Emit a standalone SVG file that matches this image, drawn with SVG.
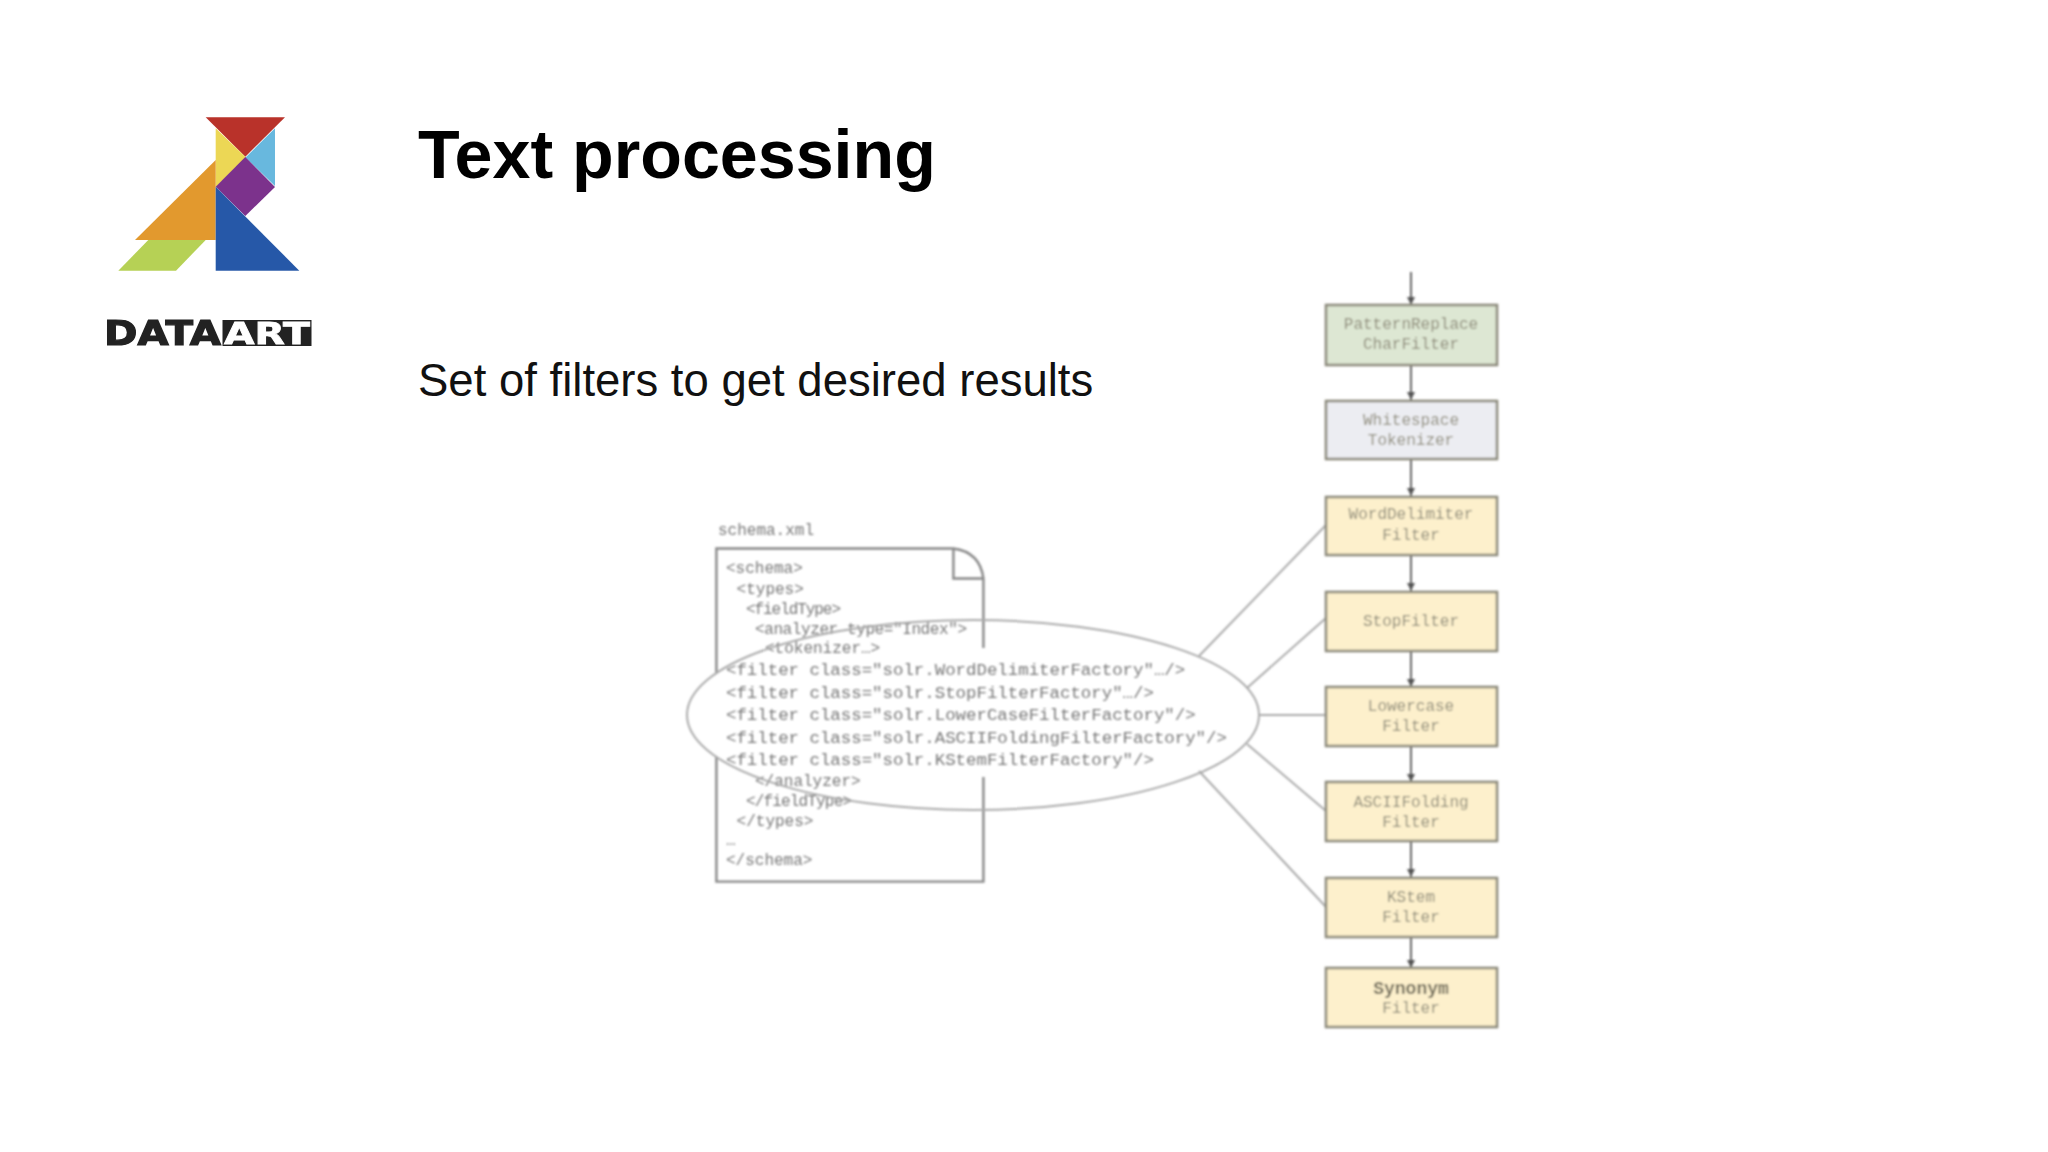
<svg xmlns="http://www.w3.org/2000/svg" width="2048" height="1152" viewBox="0 0 2048 1152">
<style>
.title{font:bold 68.2px "Liberation Sans",Arial,sans-serif;fill:#000}
.sub{font:45.5px "Liberation Sans",Arial,sans-serif;fill:#111}
.code{font-family:"Liberation Mono","Courier New",monospace;font-size:16px;fill:#777}
.flt{font-size:17.4px}
.lbl{font-family:"Liberation Mono","Courier New",monospace;font-size:16px;text-anchor:middle;fill:#8d8a78}
.box{stroke:#8c8a7c;stroke-width:2.6}
.g{fill:#dde7d3}.w{fill:#ecedf2}.y{fill:#fdf0cc}
.edge{stroke:#666;stroke-width:2;fill:none;marker-end:url(#arr)}
.link{stroke:#aaa;stroke-width:2;fill:none}
.doc{stroke:#888;stroke-width:2.4;fill:none}
</style>
<defs>
<marker id="arr" markerUnits="userSpaceOnUse" markerWidth="10" markerHeight="10" refX="8" refY="4" orient="auto"><path d="M0 0L8 4L0 8z" fill="#555"/></marker>
<filter id="soft" x="-5%" y="-5%" width="110%" height="110%"><feGaussianBlur stdDeviation="0.8"/></filter>
<filter id="softer" x="-5%" y="-5%" width="110%" height="110%"><feGaussianBlur stdDeviation="0.45"/></filter>
</defs>
<rect width="2048" height="1152" fill="#fff"/>
<g id="logo" filter="url(#softer)">
<path d="M205.7 117.3H285L245.3 156.7z" fill="#b93329"/>
<path d="M215.7 128.3L246 157.5L215.7 187z" fill="#ecd755"/>
<path d="M275 128.3L245.5 157.5L275 186z" fill="#67b8de"/>
<path d="M245.3 157L275 187L245.3 216L215.7 186.7z" fill="#7b308c"/>
<path d="M215.7 160V240H135z" fill="#e2992f"/>
<path d="M215.7 186.7L299.3 270.7H215.7z" fill="#2659a8"/>
<path d="M148.3 240H205.7L176 270.7H118.3z" fill="#b6d155"/>
<text x="104" y="345" font-family="DejaVu Sans" font-weight="bold" font-size="34" textLength="117" lengthAdjust="spacingAndGlyphs" fill="#222" stroke="#222" stroke-width="1.2">DATA</text>
<rect x="222.5" y="320" width="89" height="26" fill="#222"/>
<text x="224" y="344" font-family="DejaVu Sans" font-weight="bold" font-size="31" textLength="86" lengthAdjust="spacingAndGlyphs" fill="#fff" stroke="#fff" stroke-width="0.8">ART</text>
</g>
<text id="title" class="title" x="418" y="178">Text processing</text>
<text id="subtitle" class="sub" x="418" y="396">Set of filters to get desired results</text>
<g filter="url(#soft)">
<g id="connectors">
<path class="edge" d="M1411 272V305"/>
<path class="edge" d="M1411 365V400"/>
<path class="edge" d="M1411 459V496"/>
<path class="edge" d="M1411 555V591"/>
<path class="edge" d="M1411 651V687"/>
<path class="edge" d="M1411 746V782"/>
<path class="edge" d="M1411 841V877"/>
<path class="edge" d="M1411 937V968"/>
<path class="link" d="M1199 656L1326 525"/>
<path class="link" d="M1247 688L1326 618"/>
<path class="link" d="M1260 715H1326"/>
<path class="link" d="M1247 744L1326 811"/>
<path class="link" d="M1199 771L1326 907"/>
</g>
<g id="schema">
<path class="doc" d="M716.4 673V548.5H953.4Q980 552 983.4 578.5V648M983.4 777V881.6H716.4V757"/>
<path class="doc" d="M953.4 548.5V578.5H983.4"/>
<text class="code" x="718" y="535">schema.xml</text>
<text class="code" x="726" y="573">&lt;schema&gt;</text>
<text class="code" x="736.6" y="594">&lt;types&gt;</text>
<text class="code" x="746" y="614" textLength="95">&lt;fieldType&gt;</text>
<text class="code" x="755" y="633.5" textLength="212">&lt;analyzer type="Index"&gt;</text>
<text class="code" x="765" y="653">&lt;tokenizer…&gt;</text>
<text class="code flt" x="726" y="675">&lt;filter class="solr.WordDelimiterFactory"…/&gt;</text>
<text class="code flt" x="726" y="697.5">&lt;filter class="solr.StopFilterFactory"…/&gt;</text>
<text class="code flt" x="726" y="720">&lt;filter class="solr.LowerCaseFilterFactory"/&gt;</text>
<text class="code flt" x="726" y="743">&lt;filter class="solr.ASCIIFoldingFilterFactory"/&gt;</text>
<text class="code flt" x="726" y="765">&lt;filter class="solr.KStemFilterFactory"/&gt;</text>
<text class="code" x="755" y="786">&lt;/analyzer&gt;</text>
<text class="code" x="746" y="806" textLength="106">&lt;/fieldType&gt;</text>
<text class="code" x="736.6" y="825.5">&lt;/types&gt;</text>
<text class="code" x="726" y="845">…</text>
<text class="code" x="726" y="864.5">&lt;/schema&gt;</text>
</g>
<g id="selection"><ellipse cx="973" cy="715" rx="286" ry="95" fill="none" stroke="#aaa" stroke-width="2"/></g>
<g id="n1"><rect class="box g" x="1326" y="305" width="171" height="60"/><text class="lbl" x="1411" y="329">PatternReplace</text><text class="lbl" x="1411" y="349">CharFilter</text></g>
<g id="n2"><rect class="box w" x="1326" y="401" width="171" height="58"/><text class="lbl" x="1411" y="425">Whitespace</text><text class="lbl" x="1411" y="445">Tokenizer</text></g>
<g id="n3"><rect class="box y" x="1326" y="497" width="171" height="58"/><text class="lbl" x="1411" y="519">WordDelimiter</text><text class="lbl" x="1411" y="540">Filter</text></g>
<g id="n4"><rect class="box y" x="1326" y="592" width="171" height="59"/><text class="lbl" x="1411" y="626">StopFilter</text></g>
<g id="n5"><rect class="box y" x="1326" y="687" width="171" height="59"/><text class="lbl" x="1411" y="711">Lowercase</text><text class="lbl" x="1411" y="731">Filter</text></g>
<g id="n6"><rect class="box y" x="1326" y="782" width="171" height="59"/><text class="lbl" x="1411" y="807">ASCIIFolding</text><text class="lbl" x="1411" y="827">Filter</text></g>
<g id="n7"><rect class="box y" x="1326" y="878" width="171" height="59"/><text class="lbl" x="1411" y="902">KStem</text><text class="lbl" x="1411" y="922">Filter</text></g>
<g id="n8"><rect class="box y" x="1326" y="968" width="171" height="59"/><text class="lbl" x="1411" y="994" style="font-size:18px;font-weight:bold;fill:#6e6a58">Synonym</text><text class="lbl" x="1411" y="1013">Filter</text></g>
</g>
</svg>
